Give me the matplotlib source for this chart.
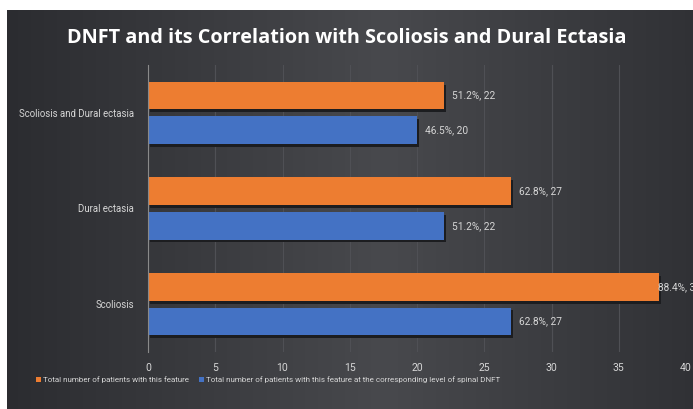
import matplotlib.pyplot as plt
import numpy as np

categories = ['Scoliosis', 'Dural ectasia', 'Scoliosis and Dural ectasia']
total_counts = [38, 27, 22]
total_pct = ['88.4%', '62.8%', '51.2%']
level_counts = [27, 22, 20]
level_pct = ['62.8%', '51.2%', '46.5%']
xticks = [0, 5, 10, 15, 20, 25, 30, 35, 40]

orange = '#ED7D31'
blue = '#4472C4'
txt = '#d6d6d6'
font = 'Roboto'

fig = plt.figure(figsize=(6.93, 4.09), dpi=100)
fig.patch.set_facecolor('white')

# dark chart background (white strip at top and left, like the reference)
bg = fig.add_axes([7 / 693, 0, 1 - 7 / 693, 1 - 10 / 409])
bg.axis('off')
t = 1 - np.abs(np.linspace(0, 1, 256) - 0.55) * 1.8
lo = np.array([0x2b, 0x2c, 0x30]) / 255
hi = np.array([0x48, 0x49, 0x4d]) / 255
img = lo[None, :] + t[:, None] * (hi - lo)[None, :]
bg.imshow(img[None, :, :], aspect='auto', extent=[0, 1, 0, 1])
bg.set_xlim(0, 1)
bg.set_ylim(0, 1)

ax = fig.add_axes([148 / 693, 1 - 352 / 409, 538 / 693, 287 / 409])
ax.set_facecolor('none')

y = np.arange(len(categories))
h = 0.29
off = 0.18
# soft shadow under the bars
ax.barh(y + off - 0.03, total_counts, height=h, left=0.15, color='#1c1d20', zorder=2)
ax.barh(y - off - 0.03, level_counts, height=h, left=0.15, color='#1c1d20', zorder=2)
ax.barh(y + off, total_counts, height=h, color=orange, zorder=3,
        label='Total number of patients with this feature')
ax.barh(y - off, level_counts, height=h, color=blue, zorder=3,
        label='Total number of patients with this feature at the corresponding level of spinal DNFT')


def label_x(v):
    # the longest bar's label slides back onto the bar end, as in the original
    return v - 0.1 if v > 36 else v + 0.6


for yy, v, p in zip(y, total_counts, total_pct):
    ax.text(label_x(v), yy + off, f'{p}, {v}', color=txt, fontsize=7.3, family=font,
            va='center', ha='left', clip_on=False, zorder=4)
for yy, v, p in zip(y, level_counts, level_pct):
    ax.text(label_x(v), yy - off, f'{p}, {v}', color=txt, fontsize=7.3, family=font,
            va='center', ha='left', clip_on=False, zorder=4)

ax.set_xlim(0, 40)
ax.set_ylim(-0.5, 2.5)
ax.set_xticks(xticks)
ax.set_yticks(y)
ax.set_yticklabels(categories, family=font, fontsize=6.9)
ax.set_xticklabels([str(v) for v in xticks], family=font, fontsize=7.5)
ax.tick_params(axis='both', colors=txt, length=0)
ax.tick_params(axis='x', pad=8)
ax.tick_params(axis='y', pad=10)
ax.grid(axis='x', color='#4f5055', linewidth=0.8, zorder=0)
for s in ['top', 'right', 'bottom']:
    ax.spines[s].set_visible(False)
ax.spines['left'].set_color('#8a8a8a')
ax.spines['left'].set_zorder(5)

fig.text(0.5, 1 - 38 / 409, 'DNFT and its Correlation with Scoliosis and Dural Ectasia',
         ha='center', va='center', color='white', fontsize=14.3,
         fontweight='bold', family='Open Sans')

fig.legend(loc='center', bbox_to_anchor=(268 / 693, 1 - 380 / 409), ncol=2, frameon=False,
           prop={'family': font, 'size': 5.8}, labelcolor=txt,
           handlelength=0.6, handleheight=0.6, handletextpad=0.3, columnspacing=1.2)

fig.savefig('out.png', dpi=100, facecolor=fig.get_facecolor())
